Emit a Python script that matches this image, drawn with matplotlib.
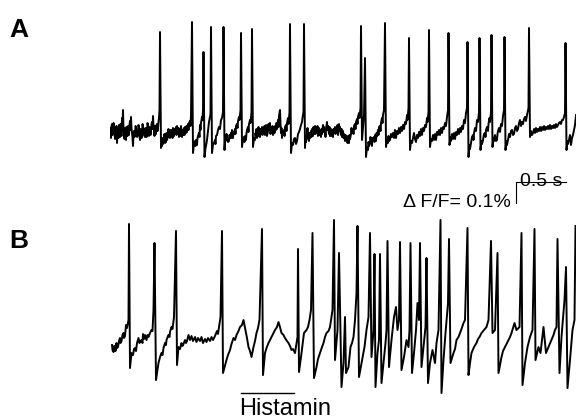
import numpy as np
import matplotlib.pyplot as plt

plt.rcParams['font.family'] = ['Liberation Sans', 'DejaVu Sans']

fs = 200.0     # frame rate [Hz]
F0 = 21000.0   # resting fluorescence [counts]

# (frame, F - F0 [counts])
trace_a = [
    (0, 4), (2, -6), (3, 6), (4, 8), (5, -3), (6, -2), (7, 9), (8, 5), (10, -7), (12, -4),
    (13, 6), (14, -11), (15, 3), (16, 1), (17, -6), (18, 7), (19, 2), (20, -5), (21, 8), (22, 3),
    (23, -4), (24, 14), (25, 5), (26, 22), (27, 2), (28, -1), (29, -7), (30, 4), (31, -2),
    (32, -8), (33, 5), (34, 2), (35, -4), (36, 6), (37, 0), (38, -3), (39, 7), (40, 11), (41, 2),
    (42, 15), (43, 4), (44, -1), (45, -6), (46, -14), (47, -3), (48, 1), (49, -5), (50, -4),
    (51, 6), (52, 5), (54, -5), (56, -3), (57, 7), (58, 4), (59, -4), (60, -8), (61, 3), (62, 1),
    (63, -6), (64, -2), (65, 8), (66, 6), (68, -3), (70, -5), (71, 4), (72, 2), (73, -5),
    (74, -1), (75, 9), (76, 7), (77, -2), (78, -4), (79, 5), (80, 3), (81, -3), (82, 1), (83, 8),
    (84, 10), (85, 3), (86, 16), (87, 5), (88, 2), (89, -4), (90, 6), (91, -1), (92, -2),
    (93, 7), (94, 8), (95, 1), (96, 4), (97, 10), (98, 14), (99, 22),
    (100, 100), (102, -16), (103, -9), (104, -14), (105, -6), (106, -12), (108, -7), (109, -2),
    (110, -11), (112, -10), (113, -1), (114, -8), (116, -3), (117, 3), (118, -5), (120, -6),
    (121, 2), (122, -3), (124, 2), (125, -6), (126, 4), (128, -4), (129, 3), (130, -2), (132, 5),
    (133, -3), (134, 6), (136, -2), (137, 4), (138, -5), (140, 3), (141, -4), (142, 6),
    (144, -5), (145, 2), (146, -3), (148, 4), (149, -3), (150, 5), (152, -1), (153, 6), (154, 0),
    (156, 8), (157, 2), (158, 9), (160, 11), (161, 6), (162, 17),
    (164, 110), (166, -21), (168, -12), (170, -9), (171, -14), (172, -8), (174, -13), (175, -6),
    (176, -4), (178, -1), (179, -5), (180, 7), (181, 2), (182, 9), (184, 15), (185, 12),
    (186, 22),
    (187, 80), (189, -25), (191, -16), (192, -14), (194, -8), (196, 1), (198, 10), (201, 18),
    (202, 105), (204, -21), (206, -13), (208, -11), (210, -8), (211, -12), (212, -4), (214, -3),
    (216, 2), (218, 5), (220, 3), (222, 12), (224, 14), (226, 20),
    (227, 105), (229, -18), (230, -10), (232, -8), (233, -2), (234, -5), (236, -10), (238, -9),
    (239, -3), (240, -6), (242, -1), (243, -6), (244, 2), (246, -6), (247, 0), (248, -2),
    (250, 3), (251, -2), (252, 6), (254, 8), (255, 4), (256, 11), (258, 15), (259, 12),
    (261, 22),
    (262, 99), (264, -15), (266, -7), (268, -5), (269, -10), (270, -4), (272, -8), (273, -1),
    (274, 2), (276, 5), (277, 0), (278, 8), (280, 12), (281, 9), (283, 20),
    (284, 103), (286, -15), (288, -6), (290, -8), (291, -1), (292, -4), (293, 3), (294, -6),
    (296, 0), (297, 5), (298, -4), (300, -5), (301, 3), (302, -2), (304, 5), (305, -3), (306, 4),
    (308, -1), (309, 6), (310, -3), (312, 7), (313, 1), (314, -4), (316, 1), (317, 8), (318, 2),
    (320, 9), (321, -2), (322, 4), (324, -1), (325, 6), (326, -3), (328, 5), (329, -1), (330, 6),
    (332, 2), (333, 9), (334, 3), (336, 12), (337, 5), (338, 16), (340, 22), (341, 8), (342, -1),
    (343, 4), (344, -6), (345, 1), (346, -3), (348, 2), (349, -4), (350, 5), (352, 7), (353, 1),
    (354, 9), (356, 14), (357, 8), (359, 20),
    (360, 108), (362, -21), (364, -11), (366, -13), (368, -7), (370, -6), (372, -12), (374, -9),
    (376, -2), (378, 0), (380, 3), (382, 7), (384, 10), (385, 14), (387, 20),
    (388, 108), (390, -16), (391, -6), (392, -10), (394, -3), (395, 4), (396, -5), (398, -9),
    (399, -1), (400, -6), (402, 1), (403, -5), (404, 3), (406, -4), (407, 5), (408, -2),
    (410, 6), (411, -2), (412, 4), (414, -1), (415, 6), (416, -4), (418, 4), (419, -3), (420, 2),
    (422, -5), (423, 3), (424, -2), (426, 7), (427, 0), (428, 5), (430, 1), (431, -5), (432, 3),
    (434, 10), (435, 2), (436, 6), (438, -2), (439, 5), (440, -4), (442, 3), (443, -4), (444, 2),
    (446, -5), (447, 3), (448, -1), (450, 5), (451, -2), (452, 4), (454, 0), (455, 7), (456, -3),
    (458, 8), (459, 1), (460, 5), (462, -3), (463, 3), (464, -5), (466, 1), (467, -6), (468, -2),
    (470, -9), (471, -3), (472, -8), (474, -5), (475, -11), (476, -4), (478, -11), (479, -3),
    (480, -7), (482, -2), (483, 4), (484, -1), (486, 3), (487, -2), (488, 6), (490, 8), (491, 3),
    (492, 10), (494, 13), (495, 8), (496, 15), (498, 19), (499, 14), (501, 24),
    (502, 106), (504, -8), (508, 17),
    (510, 74), (512, -25), (514, -15), (516, -18), (517, -10), (518, -14), (520, -11), (521, -5),
    (522, -9), (524, -14), (525, -6), (526, -8), (528, -5), (529, -10), (530, -3), (532, -9),
    (533, -1), (534, -4), (536, 2), (537, -3), (538, 5), (540, 6), (541, 1), (542, 9), (544, 14),
    (545, 9), (546, 17), (548, 22),
    (550, 109), (552, -15), (554, -8), (556, -11), (557, -4), (558, -9), (560, -8), (562, -2),
    (564, -5), (566, -1), (568, -6), (570, 2), (572, -6), (574, 1), (576, -2), (578, 4),
    (580, -1), (582, 5), (584, 1), (586, 7), (588, 3), (590, 10), (592, 8), (594, 17), (595, 12),
    (597, 24),
    (598, 94), (600, -18), (602, -9), (604, -11), (606, -6), (608, -1), (610, -7), (612, -10),
    (614, -3), (616, -6), (618, 0), (620, -4), (622, 3), (624, -3), (626, 4), (628, 1), (630, 7),
    (632, 5), (634, 14), (635, 10), (637, 20),
    (638, 102), (640, -15), (642, -7), (644, -9), (646, -3), (648, -8), (650, -2), (652, -8),
    (654, 0), (656, -3), (658, 2), (660, -3), (662, 4), (664, -1), (666, 5), (668, 3), (670, 9),
    (672, 6), (674, 15), (676, 22),
    (677, 99), (679, -13), (681, -5), (682, -9), (684, -2), (686, -7), (688, -1), (690, -7),
    (692, 0), (694, -3), (696, 3), (698, -2), (700, 4), (702, 0), (704, 6), (706, 3), (708, 12),
    (710, 9), (712, 19), (714, 24),
    (715, 90), (717, -25), (719, -13), (720, -17), (722, -11), (724, -5), (726, -3), (727, -8),
    (728, -1), (730, 4), (732, 1), (734, 12), (736, 10), (738, 20),
    (739, 94), (741, -18), (743, -9), (744, -12), (746, -8), (748, -2), (750, -1), (751, -5),
    (752, 2), (754, 5), (756, 1), (757, 8), (759, 14), (760, 10), (762, 20),
    (763, 97), (765, -15), (767, -6), (768, -9), (770, -3), (772, -9), (774, -8), (775, -2),
    (776, 1), (778, 4), (780, 0), (782, 8), (784, 6), (786, 16), (788, 22),
    (789, 95), (791, -18), (793, -9), (794, -13), (796, -8), (798, -2), (800, -5), (802, 1),
    (804, 2), (806, -3), (808, -2), (810, 4), (812, 6), (814, 1), (816, 3), (818, 9), (820, 12),
    (822, 6), (824, 10), (826, 8), (828, 13), (830, 15), (832, 11), (834, 17), (837, 24),
    (838, 104), (840, -5), (842, 1), (844, -3), (846, -1), (848, 3), (850, -1), (852, 4),
    (854, 0), (856, 3), (858, 1), (860, 5), (862, 1), (864, 5), (866, 2), (868, 6), (870, 2),
    (872, 5), (874, 3), (876, 6), (878, 3), (880, 7), (882, 3), (884, 6), (886, 4), (888, 7),
    (890, 4), (892, 8), (894, 5), (896, 7), (898, 9), (900, 10), (902, 8), (904, 12), (906, 12),
    (908, 15), (910, 19),
    (911, 89), (913, -18), (915, -9), (916, -12), (918, -8), (920, -3), (922, -13), (924, -6),
    (926, -3), (928, 2), (930, 7), (932, 17),
]

trace_b = [
    (4, -2), (5, -7), (7, -9), (8, -3), (10, -3), (11, -8), (13, 0), (14, -5), (16, -4), (18, 2),
    (20, 5), (21, 0), (23, 2), (25, 8), (27, 10), (28, 5), (30, 7), (32, 18), (34, 15), (37, 23),
    (38, 119), (40, -25), (43, -10), (46, -12), (48, -6), (50, -5), (52, -8), (54, 0), (57, 5),
    (59, 0), (60, 1), (63, 3), (65, 0), (66, 9), (68, 4), (70, 8), (73, 3), (75, 8), (77, 6),
    (80, 10), (83, 13), (85, 12), (87, 33),
    (89, 100), (92, -37), (97, -20), (100, -14), (103, -10), (105, -12), (107, -5), (110, 0),
    (112, -2), (113, 3), (117, 8), (119, 6), (120, 11), (123, 16), (125, 14), (128, 26),
    (132, 112), (134, -22), (137, -4), (140, -6), (143, 0), (145, -3), (147, -1), (150, 3),
    (152, 0), (154, 2), (157, 8), (160, 3), (163, 7), (166, 2), (170, 6), (173, 1), (176, 5),
    (180, 2), (183, 6), (186, 0), (190, 4), (193, 1), (196, 5), (200, 2), (203, 6), (206, 3),
    (210, 7), (214, 12), (216, 9), (218, 16), (221, 26),
    (224, 112), (226, -30), (233, -17), (236, -12), (240, -7), (243, -1), (247, 5), (250, 3),
    (253, 8), (257, 12), (260, 16), (264, 18), (267, 23), (271, 13), (274, 5), (277, -4),
    (280, -8), (283, -14), (287, -4), (290, 2), (293, 10), (296, 15), (299, 23),
    (304, 114), (306, -32), (310, -10), (313, -5), (317, 0), (320, 3), (323, 6), (327, 10),
    (330, 13), (334, 16), (337, 21), (340, 16), (343, 10), (347, 8), (350, 5), (354, 2),
    (357, 0), (360, -3), (363, -7), (366, -6), (370, -10), (375, 6),
    (376, 94), (378, -29), (383, -10), (388, 10), (393, 13), (396, 16), (399, 23), (402, 33),
    (405, 110), (408, -35), (413, -24), (416, -16), (420, -10), (424, -4), (427, 0), (430, 6),
    (433, 10), (437, 12), (440, 16), (445, 33),
    (448, 123), (450, -17), (455, 13),
    (458, 90), (463, -44), (467, -20), (470, 26), (472, -30), (477, -24), (481, -4), (484, 0),
    (487, 6), (490, 23), (493, 50),
    (495, 117), (498, -34), (503, -20), (506, -12), (509, -4), (513, 13), (517, 26),
    (520, 110), (523, -14), (527, 13),
    (529, 89), (531, -44), (535, -10), (538, 3),
    (540, 89), (543, -40), (547, -20), (551, 0), (553, 13),
    (555, 102), (558, -24), (563, 3), (568, 26), (572, 36), (575, 13), (578, 23),
    (580, 101), (583, -27), (588, -14), (593, 3), (597, -4), (599, 13),
    (601, 100), (604, -30), (608, -10), (612, 13), (615, 40), (618, 23),
    (620, 100), (623, -24), (627, -4), (631, 16),
    (633, 85), (636, -40), (640, -20), (645, -7), (650, -20), (653, 0), (657, 13),
    (661, 123), (663, -50), (667, -17), (671, 10), (676, 40),
    (678, 104), (681, -20), (687, -10), (690, -6), (693, 3), (697, 6), (700, 10), (703, 14),
    (707, 20), (710, 23),
    (715, 115), (717, -32), (720, -20), (723, -10), (728, -4), (733, 0), (736, 4), (739, 6),
    (743, 10), (748, 13), (753, 16), (757, 23),
    (762, 102), (765, 10), (770, 13),
    (775, 90), (777, -30), (783, -14), (786, -8), (790, -4), (794, 0), (797, 3), (800, 6),
    (803, 10), (809, 20), (813, 13), (819, 16),
    (823, 110), (825, -42), (830, -20), (835, -4), (840, 6), (845, 13),
    (849, 114), (851, -17), (857, -4), (861, -10), (867, 16), (872, -10), (877, -4), (883, 3),
    (887, 8), (890, 13), (893, 16),
    (895, 104), (899, -30), (903, 6), (909, 43),
    (912, 76), (915, -45), (920, -17), (925, 13), (929, 23),
    (931, 117),
]

histamin_on = (1.31, 1.84)   # application [s]
bar_time = 0.5               # s
bar_dff = 0.1                # %

frames_a, dF_a = np.array(trace_a, dtype=float).T
frames_b, dF_b = np.array(trace_b, dtype=float).T
t_a, dff_a = frames_a / fs, 100 * dF_a / F0
t_b, dff_b = frames_b / fs, 100 * dF_b / F0

fig = plt.figure(figsize=(5.76, 4.2), dpi=100)

ax_a = fig.add_axes([110/576, 250/420, 466/576, 160/420])
ax_a.plot(t_a, dff_a, color='black', lw=1.4)
ax_a.set_xlim(0, 4.66)
ax_a.set_ylim(-0.181, 0.581)
ax_a.axis('off')

ax_b = fig.add_axes([110/576, 15/420, 466/576, 200/420])
ax_b.plot(t_b, dff_b, color='black', lw=1.4)
ax_b.set_xlim(0, 4.66)
ax_b.set_ylim(-0.295, 0.657)
ax_b.axis('off')

# scale bar
x0, y0 = 4.06, -0.238
ax_a.plot([x0, x0, x0 + bar_time], [y0 - bar_dff, y0, y0], color='black', lw=0.8,
          clip_on=False)
ax_a.text(x0 + bar_time/2, y0 - 0.018, '0.5 s', ha='center', va='baseline', fontsize=14)
ax_a.text(x0 - 0.05, y0 - 0.119, '\u0394 F/F= 0.1%', ha='right', va='baseline', fontsize=14)

# histamine application
ax_b.plot(histamin_on, [-0.238, -0.238], color='black', lw=1.0, clip_on=False)
ax_b.text(histamin_on[0] - 0.02, -0.343, 'Histamin', ha='left', va='baseline', fontsize=17)

fig.text(9/576, 1 - 37/420, 'A', fontsize=19, fontweight='bold', va='baseline')
fig.text(9/576, 1 - 248/420, 'B', fontsize=19, fontweight='bold', va='baseline')

fig.savefig('out.png', dpi=100)
